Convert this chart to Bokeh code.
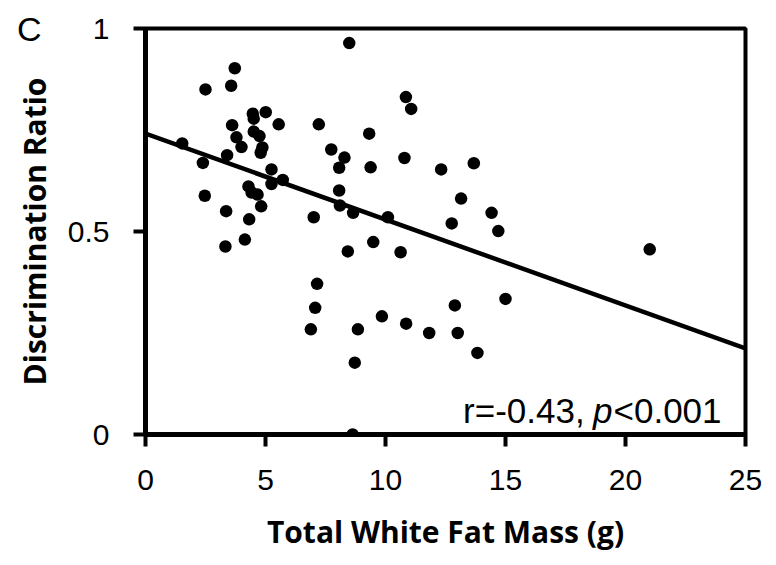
from bokeh.plotting import figure
from bokeh.models import Range1d, FixedTicker, Label, ColumnDataSource, LinearAxis
from bokeh.embed import file_html
from bokeh.resources import INLINE

# Data
fat_mass = [3.72, 2.50, 3.57, 4.47, 5.01, 4.51, 5.55, 7.22, 3.61, 4.51,
            4.75, 3.79, 4.00, 1.53, 4.87, 4.80, 7.74, 3.40, 2.39, 5.25,
            5.72, 5.25, 4.29, 4.42, 4.67, 2.47, 4.82, 3.36, 4.32, 7.01,
            3.33, 4.14, 7.15, 7.07, 6.89, 8.49, 10.85, 11.07, 9.32, 8.29,
            8.07, 9.38, 10.79, 12.32, 13.68, 8.07, 8.10, 8.65, 10.10, 13.15,
            12.76, 14.42, 14.70, 8.43, 9.49, 10.63, 8.85, 9.85, 10.86, 11.82,
            12.89, 13.01, 13.83, 8.72, 8.63, 15.00, 21.01]
disc_ratio = [0.902, 0.850, 0.859, 0.790, 0.794, 0.778, 0.764, 0.764, 0.762, 0.746,
              0.735, 0.732, 0.708, 0.717, 0.707, 0.694, 0.702, 0.688, 0.669, 0.653,
              0.627, 0.617, 0.611, 0.596, 0.591, 0.588, 0.562, 0.550, 0.530, 0.535,
              0.463, 0.480, 0.371, 0.312, 0.259, 0.964, 0.831, 0.802, 0.741, 0.682,
              0.657, 0.658, 0.681, 0.653, 0.668, 0.601, 0.564, 0.546, 0.535, 0.581,
              0.520, 0.546, 0.501, 0.451, 0.474, 0.449, 0.259, 0.291, 0.273, 0.250,
              0.318, 0.250, 0.201, 0.177, 0.000, 0.334, 0.456]
fit_x = [0, 25]
fit_y = [0.741, 0.212]
x_ticks = [0, 5, 10, 15, 20, 25]
y_ticks = [0, 0.5, 1]
y_tick_labels = {0: "0", 0.5: "0.5", 1: "1"}
panel_letter = "C"
stat_parts = ["r=-0.43,", "p", "<0.001"]
x_title = "Total White Fat Mass (g)"
y_title = "Discrimination Ratio"

p = figure(width=776, height=565, output_backend="svg", toolbar_location=None,
           x_range=Range1d(0, 25), y_range=Range1d(0, 1),
           min_border_left=145, min_border_right=31,
           min_border_top=28, min_border_bottom=131)
p.background_fill_color = "white"
p.border_fill_color = "white"
p.grid.visible = False
p.outline_line_color = "black"
p.outline_line_width = 4
p.outline_line_alpha = 1

src = ColumnDataSource(dict(x=fat_mass, y=disc_ratio))
p.scatter("x", "y", source=src, size=12.5, fill_color="black", line_color=None)
p.line(fit_x, fit_y, line_color="black", line_width=4.5)

tick_font = "Liberation Sans"
title_font = "Open Sans"

for ax in (p.xaxis[0], p.yaxis[0]):
    ax.axis_line_width = 5
    ax.axis_line_color = "black"
    ax.major_tick_line_width = 4
    ax.major_tick_line_color = "black"
    ax.major_tick_in = 0
    ax.major_tick_out = 12
    ax.minor_tick_line_color = None
    ax.major_label_text_font = tick_font
    ax.major_label_text_font_size = "30px"
    ax.major_label_text_color = "black"
    ax.axis_label_text_font = title_font
    ax.axis_label_text_font_style = "bold"
    ax.axis_label_text_font_size = "30px"
    ax.axis_label_text_color = "black"

p.xaxis.ticker = FixedTicker(ticks=x_ticks)
p.yaxis.ticker = FixedTicker(ticks=y_ticks)
p.yaxis.major_label_overrides = y_tick_labels
p.xaxis.major_label_standoff = 23
p.yaxis.major_label_standoff = 24
p.xaxis.axis_label = x_title
p.yaxis.axis_label = y_title
p.xaxis.axis_label_standoff = 18
p.yaxis.axis_label_standoff = 10

# panel letter, drawn as the single label of an outer left axis
letter_axis = LinearAxis(ticker=FixedTicker(ticks=[1]),
                         major_label_overrides={1: panel_letter})
letter_axis.axis_line_color = None
letter_axis.major_tick_line_color = None
letter_axis.minor_tick_line_color = None
letter_axis.major_tick_out = 0
letter_axis.major_tick_in = 0
letter_axis.major_label_standoff = -31
letter_axis.major_label_text_font = tick_font
letter_axis.major_label_text_font_size = "34px"
letter_axis.major_label_text_color = "black"
p.add_layout(letter_axis, "left")

base_y = 0.06
stat_size = "35px"
p.add_layout(Label(x=18.3, y=base_y, text=stat_parts[0], text_font=tick_font,
                   text_color="black",
                   text_font_size=stat_size, text_align="right", text_baseline="alphabetic"))
p.add_layout(Label(x=18.65, y=base_y, text=stat_parts[1], text_font=tick_font,
                   text_color="black", text_font_style="italic", text_font_size=stat_size,
                   text_align="left", text_baseline="alphabetic"))
p.add_layout(Label(x=19.5, y=base_y, text=stat_parts[2], text_font=tick_font,
                   text_color="black",
                   text_font_size=stat_size, text_align="left", text_baseline="alphabetic"))

with open("out.html", "w") as f:
    f.write(file_html(p, INLINE))
